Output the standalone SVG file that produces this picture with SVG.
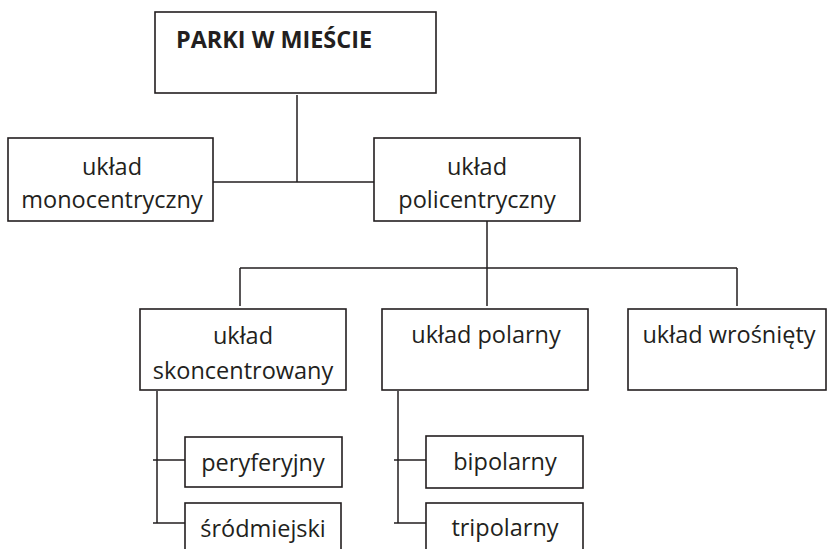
<svg xmlns="http://www.w3.org/2000/svg" width="828" height="549" viewBox="0 0 828 549">
  <style>
    .box { fill: #ffffff; stroke: #231f20; stroke-width: 1.6; }
    .line { fill: none; stroke: #231f20; stroke-width: 1.5; }
    .lbl { font-family: "Open Sans", "Noto Sans", "DejaVu Sans", sans-serif; font-size: 23.5px; fill: #231f20; text-anchor: middle; }
    .title { font-family: "Open Sans", "Noto Sans", "DejaVu Sans", sans-serif; font-size: 24px; font-weight: bold; fill: #231f20; }
  </style>
  <rect width="828" height="549" fill="#ffffff"/>

  <!-- connectors -->
  <g id="connectors" class="line">
    <path d="M297 95 V182 M213 182 H374"/>
    <path d="M487 221 V268 M240 268 H737 M240 268 V306 M487 268 V306 M737 268 V306"/>
    <path d="M157 391 V523 M153 460 H185 M153 523 H185"/>
    <path d="M398 391 V523 M394 460 H426 M394 523 H426"/>
  </g>

  <g id="parki">
    <rect class="box" x="155" y="12" width="281" height="81"/>
    <text class="title" x="176" y="48" textLength="196" lengthAdjust="spacingAndGlyphs">PARKI W MIEŚCIE</text>
  </g>

  <g id="monocentryczny">
    <rect class="box" x="8" y="138" width="205" height="83"/>
    <text class="lbl" x="112" y="175">układ</text>
    <text class="lbl" x="112" y="208">monocentryczny</text>
  </g>

  <g id="policentryczny">
    <rect class="box" x="374" y="138" width="206" height="83"/>
    <text class="lbl" x="477" y="175">układ</text>
    <text class="lbl" x="477" y="208">policentryczny</text>
  </g>

  <g id="skoncentrowany">
    <rect class="box" x="140" y="309" width="206" height="81"/>
    <text class="lbl" x="243" y="344">układ</text>
    <text class="lbl" x="243" y="379">skoncentrowany</text>
  </g>

  <g id="polarny">
    <rect class="box" x="382" y="309" width="206" height="81"/>
    <text class="lbl" x="486" y="343">układ polarny</text>
  </g>

  <g id="wrosniety">
    <rect class="box" x="628" y="309" width="198" height="81"/>
    <text class="lbl" x="729" y="343">układ wrośnięty</text>
  </g>

  <g id="peryferyjny">
    <rect class="box" x="185" y="437" width="157" height="50"/>
    <text class="lbl" x="263" y="471">peryferyjny</text>
  </g>

  <g id="srodmiejski">
    <rect class="box" x="185" y="503" width="156" height="60"/>
    <text class="lbl" x="263" y="537">śródmiejski</text>
  </g>

  <g id="bipolarny">
    <rect class="box" x="426" y="436" width="157" height="52"/>
    <text class="lbl" x="505" y="470">bipolarny</text>
  </g>

  <g id="tripolarny">
    <rect class="box" x="426" y="503" width="157" height="60"/>
    <text class="lbl" x="505" y="536">tripolarny</text>
  </g>
</svg>
